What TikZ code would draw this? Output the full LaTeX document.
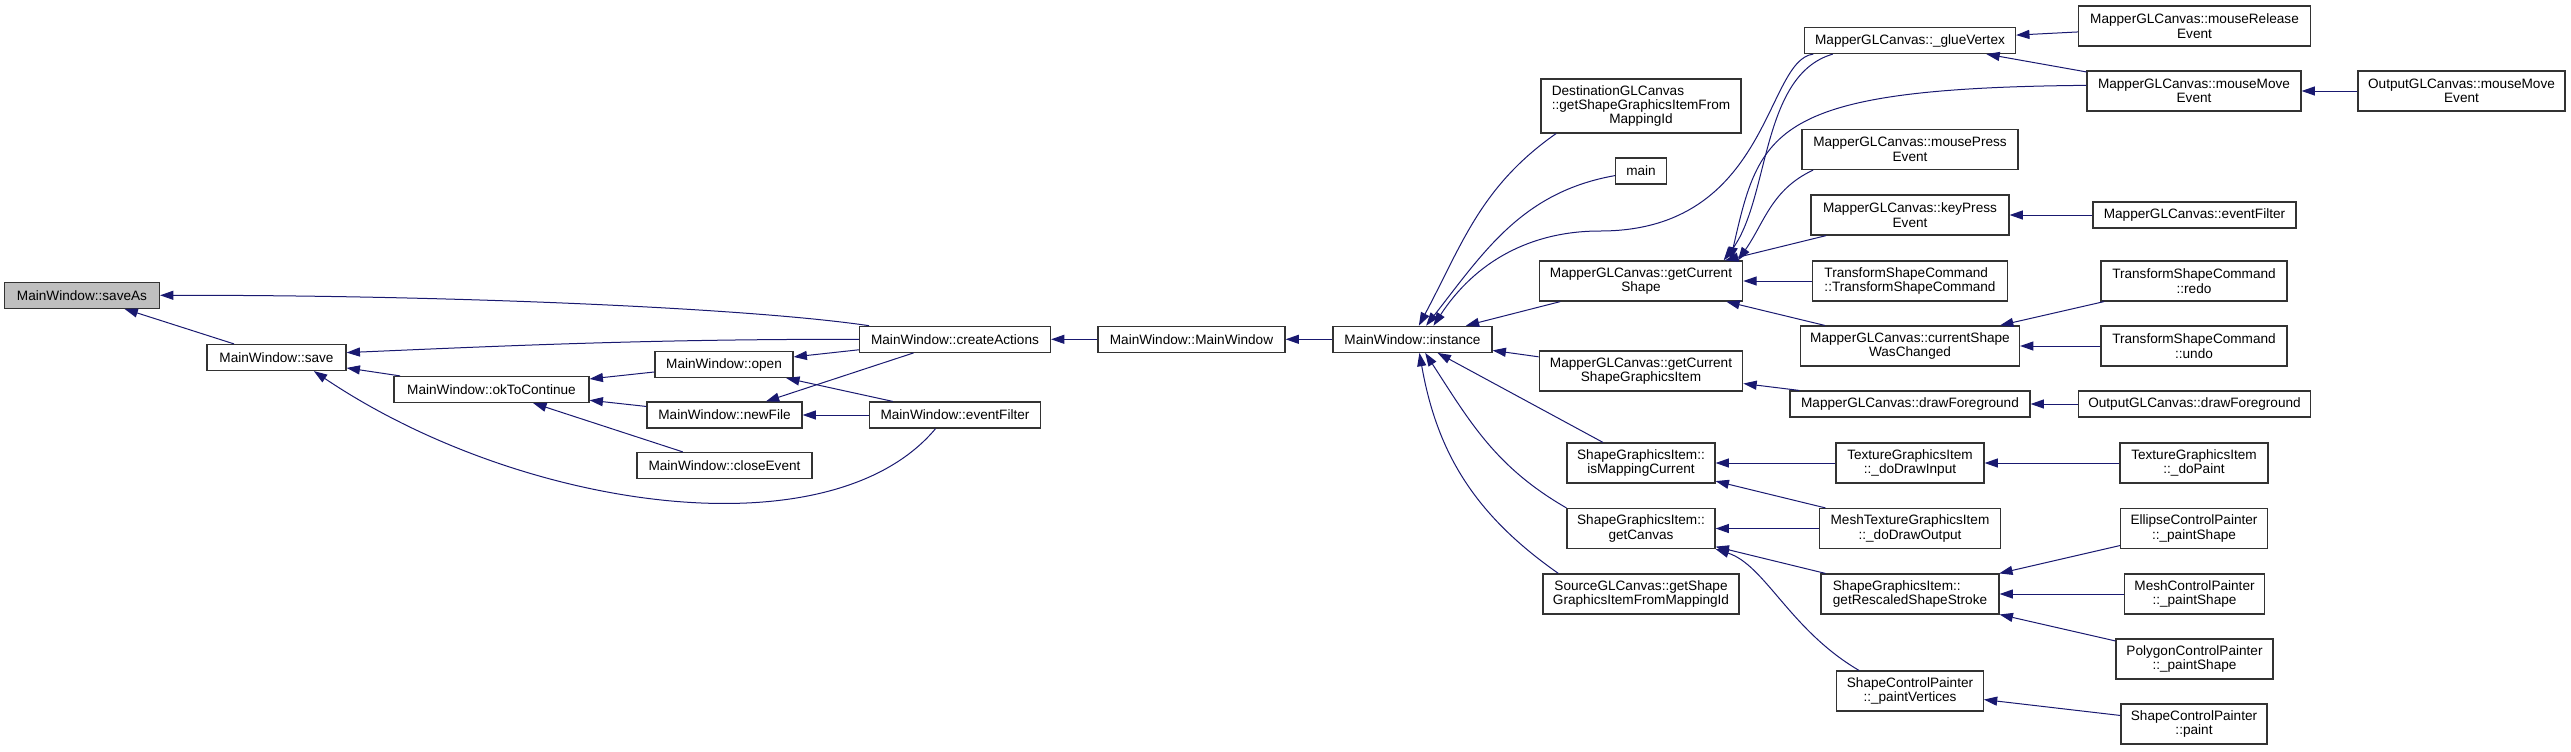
\documentclass[tikz,border=0pt]{standalone}
\usepackage{fontspec}
\setmainfont{Liberation Sans}
\usetikzlibrary{arrows.meta}
\definecolor{edgeblue}{HTML}{191970}
\newcommand{\firstleft}[2]{\makebox[0pt][l]{#1}\phantom{#2}}

\begin{document}
\begin{tikzpicture}[x=0.75pt, y=0.75pt,
    >={Triangle[length=10pt,width=6.8pt]},
    fn/.style={draw=black!80, line width=0.9pt, fill=white, inner sep=0pt, align=center,
      font=\fontsize{10.2}{10.8}\selectfont, minimum height=19.5pt},
    two/.style={minimum height=30pt},
    three/.style={minimum height=40.5pt},
    wd/.style={minimum width=#1*0.75pt},
    calls/.style={<-, draw=edgeblue, line width=0.75pt}]
    \useasboundingbox (0,0) rectangle (2571,-751);

    % MainWindow functions
    \node (saveAs) at (82,-295.3) [fn, wd=155, fill=black!25] {MainWindow::saveAs};
    \node (save) at (276.5,-357.5) [fn, wd=139] {MainWindow::save};
    \node (okToContinue) at (491.5,-389.5) [fn, wd=195] {MainWindow::okToContinue};
    \node (open) at (724,-364.5) [fn, wd=138] {MainWindow::open};
    \node (newFile) at (724.5,-415) [fn, wd=155] {MainWindow::newFile};
    \node (closeEvent) at (724.5,-465.5) [fn, wd=175] {MainWindow::closeEvent};
    \node (createActions) at (955,-339.3) [fn, wd=191] {MainWindow::createActions};
    \node (eventFilter) at (955,-415) [fn, wd=171] {MainWindow::eventFilter};
    \node (mainWindow) at (1191.5,-339.3) [fn, wd=187] {MainWindow::MainWindow};
    \node (instance) at (1412.5,-339.3) [fn, wd=159] {MainWindow::instance};

    % callers of instance
    \node (destCanvas) at (1641,-106) [fn, three, wd=200] {\firstleft{DestinationGLCanvas}{::getShapeGraphicsItemFrom}\\::getShapeGraphicsItemFrom\\MappingId};
    \node (main) at (1641,-171) [fn, wd=50.5] {main};
    \node (getCurShape) at (1641,-281) [fn, two, wd=203.5] {MapperGLCanvas::getCurrent\\Shape};
    \node (getCurShapeItem) at (1641,-371) [fn, two, wd=203.5] {MapperGLCanvas::getCurrent\\ShapeGraphicsItem};
    \node (isMapping) at (1641,-463) [fn, two, wd=148] {ShapeGraphicsItem::\\isMappingCurrent};
    \node (getCanvas) at (1641,-528.5) [fn, two, wd=148] {ShapeGraphicsItem::\\getCanvas};
    \node (sourceCanvas) at (1641,-594) [fn, two, wd=196] {SourceGLCanvas::getShape\\GraphicsItemFromMappingId};

    % third column
    \node (glueVertex) at (1910,-40.5) [fn, wd=211] {MapperGLCanvas::\_glueVertex};
    \node (mousePress) at (1910,-149.5) [fn, two, wd=216] {MapperGLCanvas::mousePress\\Event};
    \node (keyPress) at (1910,-215) [fn, two, wd=198] {MapperGLCanvas::keyPress\\Event};
    \node (tscCtor) at (1910,-281) [fn, two, wd=195] {\firstleft{TransformShapeCommand}{::TransformShapeCommand}\\::TransformShapeCommand};
    \node (shapeChanged) at (1910,-346) [fn, two, wd=219] {MapperGLCanvas::currentShape\\WasChanged};
    \node (mapperDraw) at (1910,-404) [fn, wd=240] {MapperGLCanvas::drawForeground};
    \node (drawInput) at (1910,-463) [fn, two, wd=148] {TextureGraphicsItem\\::\_doDrawInput};
    \node (drawOutput) at (1910,-528.5) [fn, two, wd=181.5] {MeshTextureGraphicsItem\\::\_doDrawOutput};
    \node (rescaled) at (1910,-594) [fn, two, wd=178] {\firstleft{ShapeGraphicsItem::}{getRescaledShapeStroke}\\getRescaledShapeStroke};
    \node (paintVertices) at (1910,-691) [fn, two, wd=146.5] {ShapeControlPainter\\::\_paintVertices};

    % last columns
    \node (mouseRelease) at (2194.5,-26) [fn, two, wd=232] {MapperGLCanvas::mouseRelease\\Event};
    \node (mapperMouseMove) at (2194,-91) [fn, two, wd=214] {MapperGLCanvas::mouseMove\\Event};
    \node (outMouseMove) at (2461.5,-91) [fn, two, wd=207] {OutputGLCanvas::mouseMove\\Event};
    \node (mapperFilter) at (2194.5,-215) [fn, wd=203] {MapperGLCanvas::eventFilter};
    \node (redo) at (2194,-281) [fn, two, wd=186] {TransformShapeCommand\\::redo};
    \node (undo) at (2194,-346) [fn, two, wd=186] {TransformShapeCommand\\::undo};
    \node (outDraw) at (2194.5,-404) [fn, wd=232] {OutputGLCanvas::drawForeground};
    \node (doPaint) at (2194,-463) [fn, two, wd=148] {TextureGraphicsItem\\::\_doPaint};
    \node (ellipse) at (2194,-528.5) [fn, two, wd=146.5] {EllipseControlPainter\\::\_paintShape};
    \node (meshPainter) at (2194.5,-594) [fn, two, wd=140] {MeshControlPainter\\::\_paintShape};
    \node (polygon) at (2194.5,-659) [fn, two, wd=157] {PolygonControlPainter\\::\_paintShape};
    \node (paint) at (2194,-724) [fn, two, wd=146] {ShapeControlPainter\\::paint};

    % calls among MainWindow
    \draw[calls] (saveAs) -- (save);
    \draw[calls] (saveAs.east) .. controls (450,-295) and (750,-308) .. (createActions.171);
    \draw[calls] (save.4) .. controls (500,-346) and (650,-339) .. (createActions.west);
    \draw[calls] (save) -- (okToContinue);
    \draw[calls] (save.-20) .. controls (520,-510) and (830,-555) .. (eventFilter.-145);
    \draw[calls] (okToContinue) -- (open);
    \draw[calls] (okToContinue) -- (newFile);
    \draw[calls] (okToContinue) -- (closeEvent);
    \draw[calls] (open) -- (createActions);
    \draw[calls] (open) -- (eventFilter);
    \draw[calls] (newFile) -- (createActions);
    \draw[calls] (newFile) -- (eventFilter);
    \draw[calls] (createActions) -- (mainWindow);
    \draw[calls] (mainWindow) -- (instance);

    % calls of instance
    \draw[calls] (instance.65) to[out=62, in=215] (destCanvas.-162);
    \draw[calls] (instance.45) to[out=52, in=190] (main.190);
    \draw[calls] (instance.33) .. controls (1475,-262) and (1530,-231) .. (1600,-231)
      .. controls (1770,-231) and (1765,-60) .. (glueVertex.-172);
    \draw[calls] (instance) -- (getCurShape);
    \draw[calls] (instance) -- (getCurShapeItem);
    \draw[calls] (instance) -- (isMapping);
    \draw[calls] (instance.-47) to[out=-57, in=150] (getCanvas.north west);
    \draw[calls] (instance.-63) to[out=-80, in=145] (sourceCanvas.166);

    % calls of getCurrentShape
    \draw[calls] (getCurShape.14) .. controls (1770,-200) and (1760,-75) .. (glueVertex.-170);
    \draw[calls] (getCurShape.13) .. controls (1760,-130) and (1770,-88) .. (mapperMouseMove.177);
    \draw[calls] (getCurShape.12) to[out=55, in=205] (mousePress.-168);
    \draw[calls] (getCurShape) -- (keyPress);
    \draw[calls] (getCurShape) -- (tscCtor);
    \draw[calls] (getCurShape) -- (shapeChanged);

    % remaining calls
    \draw[calls] (glueVertex) -- (mouseRelease);
    \draw[calls] (glueVertex) -- (mapperMouseMove);
    \draw[calls] (mapperMouseMove) -- (outMouseMove);
    \draw[calls] (keyPress) -- (mapperFilter);
    \draw[calls] (shapeChanged) -- (redo);
    \draw[calls] (shapeChanged) -- (undo);
    \draw[calls] (getCurShapeItem) -- (mapperDraw);
    \draw[calls] (mapperDraw) -- (outDraw);
    \draw[calls] (isMapping) -- (drawInput);
    \draw[calls] (isMapping) -- (drawOutput);
    \draw[calls] (getCanvas) -- (drawOutput);
    \draw[calls] (getCanvas) -- (rescaled);
    \draw[calls] (getCanvas.south east) .. controls (1765,-565) and (1790,-630) .. (paintVertices.158);
    \draw[calls] (drawInput) -- (doPaint);
    \draw[calls] (rescaled) -- (ellipse);
    \draw[calls] (rescaled) -- (meshPainter);
    \draw[calls] (rescaled) -- (polygon);
    \draw[calls] (paintVertices) -- (paint);
\end{tikzpicture}
\end{document}
